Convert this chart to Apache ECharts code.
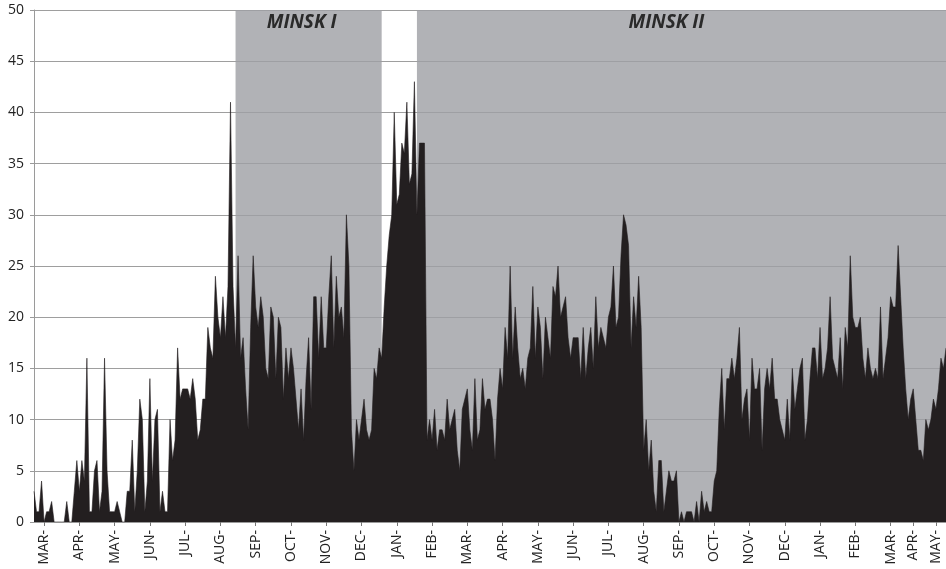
<!DOCTYPE html>
<html>
<head>
<meta charset="utf-8">
<title>MINSK I / MINSK II</title>
<script src="https://cdn.jsdelivr.net/npm/echarts@6/dist/echarts.min.js"></script>
<style>
  html, body { margin: 0; padding: 0; background: #fff; }
  #main { width: 946px; height: 569px; }
</style>
</head>
<body>
<div id="main"></div>
<script>
// values, ~2.5px per sample, grouped by month
var feb14 = [3, 1, 1, 4];
var mar14 = [0, 1, 1, 2, 0, 0, 0, 0, 0, 2, 0, 0, 3, 6];
var apr14 = [3, 6, 4, 16, 1, 1, 5, 6, 1, 3, 16, 5, 1, 1];
var may14 = [1, 2, 1, 0, 0, 3, 3, 8, 1, 5, 12, 10, 1, 4];
var jun14 = [14, 4, 10, 11, 1, 3, 1, 1, 10, 6, 8, 17, 12, 13];
var jul14 = [13, 13, 12, 14, 12, 8, 9, 12, 12, 19, 17, 16, 24, 20];
var aug14 = [18, 22, 18, 23, 41, 23, 17, 26, 16, 18, 13, 9, 19, 26];
var sep14 = [21, 19, 22, 20, 15, 14, 21, 20, 14, 20, 19, 12, 17, 14];
var oct14 = [17, 15, 12, 9, 13, 8, 14, 18, 11, 22, 22, 16, 22, 17];
var nov14 = [17, 22, 26, 17, 24, 20, 21, 18, 30, 25, 9, 5, 10, 8];
var dec14 = [10, 12, 9, 8, 9, 15, 14, 17, 16, 21, 25, 28, 30, 40];
var jan15 = [31, 32, 37, 36, 41, 33, 34, 43, 30, 37, 37, 37, 8, 10];
var feb15 = [8, 11, 7, 9, 9, 8, 12, 9, 10, 11, 7, 5, 11, 12];
var mar15 = [13, 9, 7, 14, 8, 9, 14, 11, 12, 12, 10, 6, 12, 15];
var apr15 = [13, 19, 16, 25, 16, 21, 17, 14, 15, 13, 16, 17, 23, 16];
var may15 = [21, 19, 14, 20, 18, 16, 23, 22, 25, 20, 21, 22, 18, 16];
var jun15 = [18, 18, 18, 14, 19, 14, 17, 19, 15, 22, 17, 19, 18, 17];
var jul15 = [20, 21, 25, 19, 20, 26, 30, 29, 27, 17, 22, 19, 24, 19];
var aug15 = [7, 10, 5, 8, 3, 1, 6, 6, 1, 3, 5, 4, 4, 5];
var sep15 = [0, 1, 0, 1, 1, 1, 0, 2, 0, 3, 1, 2, 1, 1];
var oct15 = [4, 5, 11, 15, 9, 14, 14, 16, 14, 16, 19, 10, 12, 13];
var nov15 = [8, 16, 13, 13, 15, 7, 13, 15, 13, 16, 12, 12, 10, 9];
var dec15 = [8, 12, 8, 15, 11, 13, 15, 16, 8, 10, 14, 17, 17, 14];
var jan16 = [19, 14, 15, 17, 22, 16, 15, 14, 18, 13, 19, 17, 26, 20];
var feb16 = [19, 19, 20, 16, 14, 17, 15, 14, 15, 14, 21, 14, 16, 18];
var mar16 = [22, 21, 21, 27, 22, 17, 13, 10, 12];
var apr16 = [13, 10, 7, 7, 6, 10, 9, 10, 12];
var may16 = [11, 13, 16, 15, 17];

var monthLabels = ['MAR', 'APR', 'MAY', 'JUN', 'JUL', 'AUG', 'SEP', 'OCT', 'NOV', 'DEC', 'JAN', 'FEB',
  'MAR', 'APR', 'MAY', 'JUN', 'JUL', 'AUG', 'SEP', 'OCT', 'NOV', 'DEC', 'JAN', 'FEB',
  'MAR', 'APR', 'MAY'];
var months = [mar14, apr14, may14, jun14, jul14, aug14, sep14, oct14, nov14, dec14, jan15, feb15,
  mar15, apr15, may15, jun15, jul15, aug15, sep15, oct15, nov15, dec15, jan16, feb16,
  mar16, apr16, may16];

// ceasefire periods, as sample indices
var bands = [
  { name: 'MINSK I', from: 80, to: 138, shift: -7 },
  { name: 'MINSK II', from: 152, to: null, shift: -15 }
];

var values = feb14.slice();
var tickAt = {};
months.forEach(function (m, i) {
  tickAt[values.length] = monthLabels[i] + '-';
  values = values.concat(m);
});
var categories = values.map(function (v, i) { return String(i); });
var isTick = function (idx) { return tickAt[idx] !== undefined; };

var chart = echarts.init(document.getElementById('main'));
chart.setOption({
  animation: false,
  textStyle: { fontFamily: 'Open Sans' },
  grid: { left: 34, right: 0, top: 10, bottom: 47 },
  xAxis: {
    type: 'category',
    data: categories,
    boundaryGap: false,
    axisLine: { show: true, lineStyle: { color: '#9a9a9a', width: 1 } },
    axisTick: { show: true, interval: isTick, length: 4, lineStyle: { color: '#777' } },
    axisLabel: {
      interval: isTick,
      rotate: 90,
      margin: 8,
      fontSize: 14,
      color: '#222',
      formatter: function (v, idx) { return tickAt[idx] || ''; }
    },
    splitLine: { show: false }
  },
  yAxis: {
    type: 'value',
    min: 0,
    max: 50,
    interval: 5,
    axisLine: { show: true, lineStyle: { color: '#9a9a9a', width: 1 } },
    axisTick: { show: true, length: 4, lineStyle: { color: '#9a9a9a' } },
    axisLabel: { margin: 10, fontSize: 14, color: '#222' },
    splitLine: { show: true, lineStyle: { color: '#9e9e9e', width: 1 } }
  },
  series: [
    {
      type: 'line',
      z: 1,
      data: [],
      markArea: {
        silent: true,
        itemStyle: { color: 'rgba(158,159,164,0.8)' },
        label: {
          show: true,
          position: 'insideTop',
          distance: 3,
          fontSize: 19,
          fontWeight: 'bold',
          fontStyle: 'italic',
          color: '#2a2a2a'
        },
        data: bands.map(function (b) {
          var to = b.to === null ? values.length - 1 : b.to;
          return [
            { name: b.name, xAxis: String(b.from), label: { offset: [b.shift, 0] } },
            { xAxis: String(to) }
          ];
        })
      }
    },
    {
      type: 'line',
      z: 3,
      data: values,
      symbol: 'none',
      sampling: null,
      lineStyle: { color: '#231f20', width: 0.6 },
      areaStyle: { color: '#231f20', opacity: 1 }
    }
  ]
});
</script>
</body>
</html>
